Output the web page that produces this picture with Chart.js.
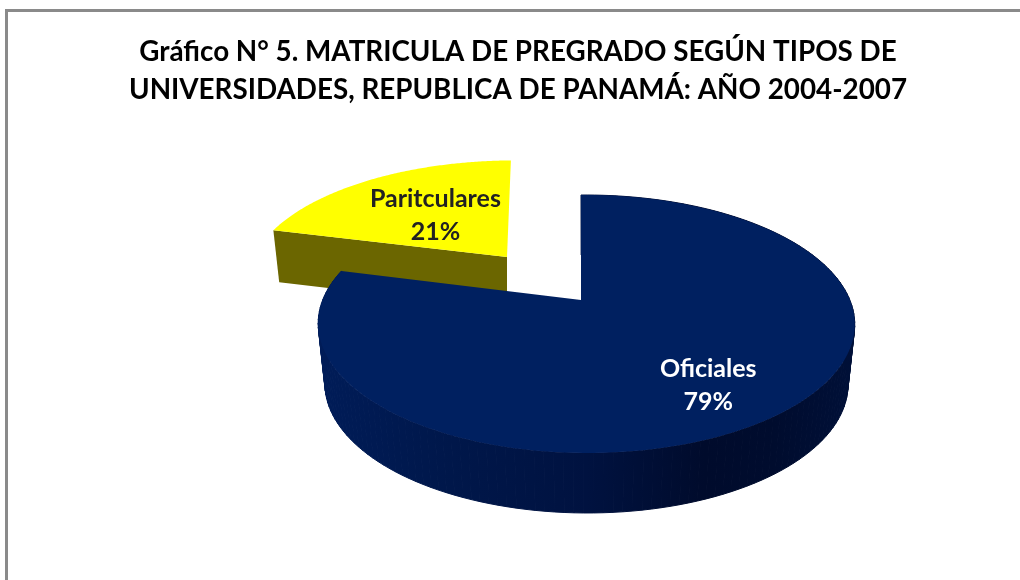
<!DOCTYPE html>
<html>
<head>
<meta charset="utf-8">
<script src="https://cdn.jsdelivr.net/npm/chart.js@4"></script>
<style>
    html, body { margin: 0; padding: 0; background: #fff; overflow: hidden; }
    #frame { position: absolute; left: 5px; top: 9px; right: 0; bottom: 0; border: solid #8a8a8a; border-width: 3px 0 0 3px; }
    #pieChart { position: absolute; left: 0; top: 0; }
</style>
</head>
<body>
<div id="frame"></div>
<canvas id="pieChart" width="1020" height="580"></canvas>
<script>
const categories = ["Oficiales", "Paritculares"];
const seriesValues = [79, 21];
const sliceColors = ["#002060", "#FFFF00"];
const labelColors = ["#FFFFFF", "#222222"];
const titleLines = [
    "Gráfico N° 5. MATRICULA DE PREGRADO SEGÚN TIPOS DE",
    "UNIVERSIDADES, REPUBLICA DE PANAMÁ: AÑO 2004-2007"
];

// how each exploded slice sits on the tilted plane
const sliceShapes = [
    { cx: 581, cy: 300, sx: 1, sy: 1, shear: 0, depth: 60, wallCx: 586, labelR: 0.7, labelDy: 7 },
    { cx: 507, cy: 257, sx: 0.98, sy: 0.92, shear: -4.7, depth: 52, wallCx: 507, labelR: 0.5, labelDy: 0 }
];

function project(shape, X, Y) {
    const den = 1 - 0.186 * Y - 0.02 * X;
    return {
        x: shape.cx + shape.sx * (263.5 * X + shape.shear * Y) / den,
        y: shape.cy + shape.sy * 124.5 * Y / den
    };
}

function lowered(shape, p) {
    return { x: shape.wallCx + (p.x - shape.wallCx) * 0.975, y: p.y + shape.depth };
}

function rimPoints(shape, arc) {
    const pts = [];
    const steps = 160;
    for (let i = 0; i <= steps; i++) {
        const a = arc.startAngle + (arc.endAngle - arc.startAngle) * i / steps;
        pts.push(project(shape, Math.cos(a), Math.sin(a)));
    }
    return pts;
}

function fillPoly(ctx, pts, fill) {
    ctx.beginPath();
    pts.forEach((p, i) => i ? ctx.lineTo(p.x, p.y) : ctx.moveTo(p.x, p.y));
    ctx.closePath();
    ctx.fillStyle = fill;
    ctx.fill();
}

function blueWallFill(ctx) {
    const g = ctx.createLinearGradient(318, 0, 855, 0);
    g.addColorStop(0, "#001c58");
    g.addColorStop(0.25, "#00174a");
    g.addColorStop(0.5, "#001240");
    g.addColorStop(0.72, "#000b2c");
    g.addColorStop(0.85, "#000c2e");
    g.addColorStop(1, "#001038");
    return g;
}

const tiltedPie = {
    id: "tiltedPie",
    beforeDatasetsDraw(chart) {
        const ctx = chart.ctx;
        const arcs = chart.getDatasetMeta(0).data;
        // the yellow slice is behind, so it goes first
        [1, 0].forEach(i => {
            const arc = arcs[i].getProps(["startAngle", "endAngle"], true);
            const shape = sliceShapes[i];
            const rim = rimPoints(shape, arc);
            const apex = { x: shape.cx, y: shape.cy };
            if (i === 1) {
                const first = rim[0];
                fillPoly(ctx, [first, apex, lowered(shape, apex), lowered(shape, first)], "#6b6600");
            } else {
                const fill = blueWallFill(ctx);
                ctx.strokeStyle = fill;
                ctx.lineWidth = 1;
                for (let n = 0; n < rim.length - 1; n++) {
                    fillPoly(ctx, [rim[n], rim[n + 1], lowered(shape, rim[n + 1]), lowered(shape, rim[n])], fill);
                    ctx.stroke();
                }
            }
            fillPoly(ctx, [apex].concat(rim), arcs[i].options.backgroundColor);
        });
        // labels
        ctx.textAlign = "center";
        ctx.textBaseline = "middle";
        ctx.font = "bold 25px Lato";
        arcs.forEach((el, i) => {
            const arc = el.getProps(["startAngle", "endAngle"], true);
            const shape = sliceShapes[i];
            const mid = (arc.startAngle + arc.endAngle) / 2;
            const p = project(shape, shape.labelR * Math.cos(mid), shape.labelR * Math.sin(mid));
            ctx.fillStyle = labelColors[i];
            ctx.fillText(categories[i], p.x, p.y + shape.labelDy - 16);
            ctx.fillText(seriesValues[i] + "%", p.x, p.y + shape.labelDy + 17);
        });
        return false;
    }
};

new Chart(document.getElementById("pieChart").getContext("2d"), {
    type: "pie",
    data: {
        labels: categories,
        datasets: [{
            data: seriesValues,
            backgroundColor: sliceColors,
            borderWidth: 0
        }]
    },
    options: {
        responsive: false,
        animation: false,
        layout: { padding: { left: 16 } },
        plugins: {
            legend: { display: false },
            tooltip: { enabled: false },
            title: {
                display: true,
                text: titleLines,
                color: "#000000",
                font: { family: "Lato", size: 27.8, weight: "bold", lineHeight: 1.37 },
                padding: { top: 33, bottom: 10 }
            }
        }
    },
    plugins: [tiltedPie]
});
</script>
</body>
</html>
